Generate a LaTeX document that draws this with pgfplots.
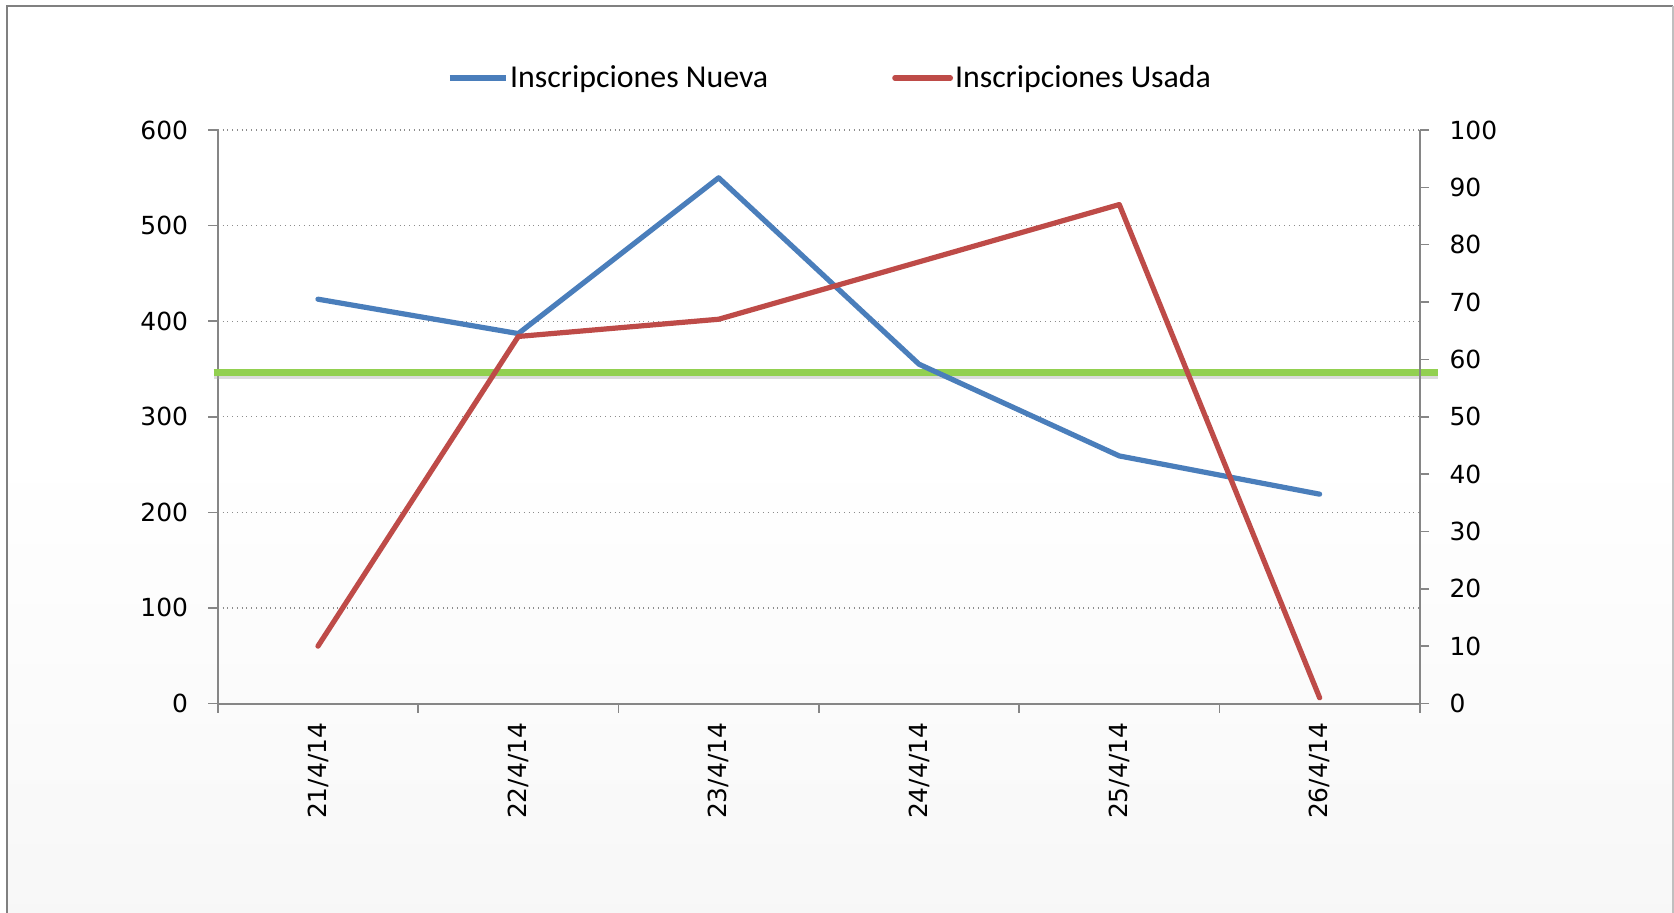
\documentclass[border=0pt]{standalone}
\usepackage{pgfplots}
\pgfplotsset{compat=1.18}
\usepackage{fontspec}
\setmainfont{DejaVu Sans}
\newfontfamily\carlito{Carlito}
\definecolor{axgray}{HTML}{868686}
\definecolor{lblue}{HTML}{4A7EBB}
\definecolor{lred}{HTML}{BE4B48}
\definecolor{lgreen}{HTML}{92D050}
\begin{document}
\begin{tikzpicture}
\path[use as bounding box] (0,0) rectangle (837bp,456.5bp);
\fill[white] (0,0) rectangle (837bp,456.5bp);
\shade[top color=white, bottom color=black!3] (3.35bp,0) rectangle (836.35bp,230bp);
\draw[line width=1.1bp, color=black!50] (3.35bp,-5bp) -- (3.35bp,453.65bp) -- (836.35bp,453.65bp);
\draw[line width=0.8bp, color=black!25] (836.35bp,453.65bp) -- (836.35bp,-5bp);
\begin{axis}[
  at={(108.9bp,104.75bp)}, anchor=south west,
  scale only axis, width=601bp, height=286.75bp,
  xmin=-0.5, xmax=5.5, ymin=0, ymax=600,
  axis x line*=bottom, axis y line*=left,
  axis line style={color=axgray, line width=1bp, -},
  xtick={0,...,5},
  xticklabels={21/4/14,22/4/14,23/4/14,24/4/14,25/4/14,26/4/14},
  major x tick style={draw=none},
  minor xtick={-0.5,0.5,1.5,2.5,3.5,4.5,5.5},
  ytick={0,100,...,600},
  tick align=outside, major tick length=4.7bp, minor tick length=4.7bp,
  tick style={color=axgray, line width=0.8bp},
  ymajorgrids, grid style={dotted, color=black!45, line width=0.6bp},
  font=\fontsize{12.5}{15}\selectfont,
  /pgf/number format/assume math mode=true,
  yticklabel style={anchor=east, inner sep=0pt, xshift=-10bp},
  xticklabel style={rotate=90, anchor=east, inner sep=0pt, xshift=-4.8bp},
  clip=false,
]
\addplot[color=black!35, opacity=0.4, line width=2.5bp, yshift=-2.2bp, forget plot] coordinates {(-0.521,346.3) (5.589,346.3)};
\addplot[color=lgreen, line width=3.8bp, forget plot] coordinates {(-0.521,346.3) (5.589,346.3)};
\addplot[color=lblue, line width=2.6bp, line cap=round, line join=round, mark=none] coordinates {
(0,423) (1,387) (2,550) (3,355) (4,259) (5,219)};
\end{axis}
\begin{axis}[
  at={(108.9bp,104.75bp)}, anchor=south west,
  scale only axis, width=601bp, height=286.75bp,
  xmin=-0.5, xmax=5.5, ymin=0, ymax=100,
  axis x line=none, axis y line*=right,
  axis line style={color=axgray, line width=1bp, -},
  ytick={0,10,...,100},
  tick align=outside, major tick length=4.7bp,
  tick style={color=axgray, line width=0.8bp},
  font=\fontsize{12.5}{15}\selectfont,
  /pgf/number format/assume math mode=true,
  yticklabel style={anchor=west, inner sep=0pt, xshift=10bp},
  clip=false,
  legend columns=2,
  legend style={draw=none, fill=none, inner sep=0pt, outer sep=0pt,
    at={(axis description cs:0.1910,1.0907)}, anchor=west,
    font=\carlito\fontsize{16}{19}\selectfont,
    nodes={inner sep=1bp},
    /tikz/every even column/.append style={column sep=61bp}},
  legend image code/.code={\draw[#1, line width=2.6bp] (0bp,0bp) -- (27.8bp,0bp);},
]
\addlegendimage{color=lblue}
\addlegendentry{Inscripciones Nueva}
\addplot[color=lred, line width=2.6bp, line cap=round, line join=round, mark=none] coordinates {
(0,10) (1,64) (2,67) (3,77) (4,87) (5,1)};
\addlegendentry{Inscripciones Usada}
\end{axis}
\end{tikzpicture}
\end{document}
